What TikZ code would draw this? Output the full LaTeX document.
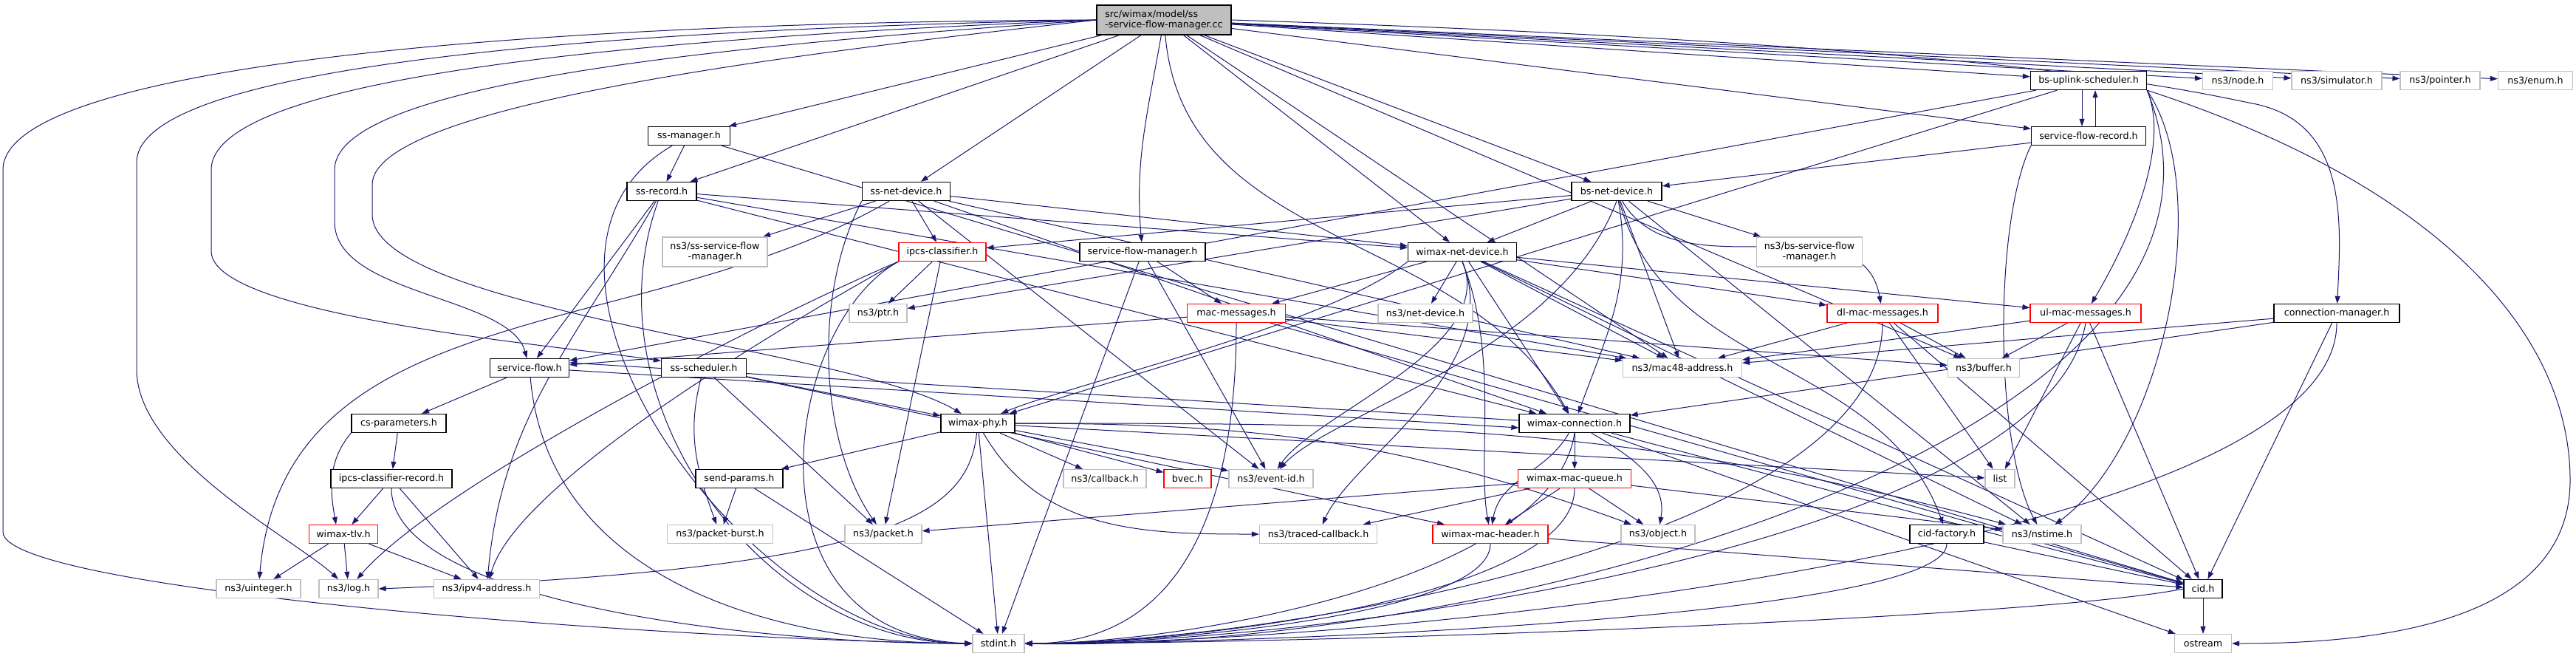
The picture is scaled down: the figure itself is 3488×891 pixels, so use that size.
\documentclass[tikz,border=0pt]{standalone}
\usepackage{fontspec}
\newfontfamily\dxfont{DejaVu Sans}
\usetikzlibrary{arrows.meta}
\definecolor{edgeblue}{RGB}{25,25,112}
\definecolor{extgray}{RGB}{191,191,191}
\pgfdeclarelayer{edgelayer}
\pgfsetlayers{edgelayer,main}
\tikzset{every picture/.style={line width=0.25pt}}
\tikzset{
  wd/.style={minimum width=#1*0.25pt},
  hbox/.style={draw=black, fill=white, line width=0.33pt, inner sep=0pt, minimum height=6.25pt,
    font=\dxfont\fontsize{3.175}{3.5}\selectfont},
  extbox/.style={hbox, draw=extgray, line width=0.3pt},
  redbox/.style={hbox, draw=red, line width=0.3pt},
  twoline/.style={minimum height=10pt, align=center},
  rootbox/.style={hbox, fill=extgray, minimum height=10pt, align=left},
  dep/.style={draw=edgeblue, line width=0.25pt, -{Triangle[length=2.5pt,width=1.75pt]}},
}

\begin{document}
\begin{tikzpicture}[x=0.25pt,y=0.25pt]
\useasboundingbox (0,0) rectangle (3488,-891);

%Root file
\node[rootbox, wd=182] (rt) at (1576,-27) {src/wimax/model/ss\\-service-flow-manager.cc};

%Row 2
\node[hbox, wd=157] (bsul) at (2828,-109) {bs-uplink-scheduler.h};
\node[extbox, wd=95] (nodeh) at (3030,-109) {ns3/node.h};
\node[extbox, wd=122] (sim) at (3164,-109) {ns3/simulator.h};
\node[extbox, wd=108] (pointer) at (3304,-109) {ns3/pointer.h};
\node[extbox, wd=101] (enum) at (3433,-109) {ns3/enum.h};

%Row 3
\node[hbox, wd=111] (ssman) at (933,-184) {ss-manager.h};
\node[hbox, wd=155] (sfr) at (2828,-184) {service-flow-record.h};

%Row 4
\node[hbox, wd=94] (ssrec) at (896,-259) {ss-record.h};
\node[hbox, wd=119] (ssnet) at (1227,-259) {ss-net-device.h};
\node[hbox, wd=122] (bsnet) at (2189,-259) {bs-net-device.h};

%Row 5
\node[extbox, twoline, wd=142] (ssfm) at (968,-341) {ns3/ss-service-flow\\-manager.h};
\node[redbox, wd=118] (ipcsc) at (1276,-341) {ipcs-classifier.h};
\node[hbox, wd=170] (sfm) at (1547,-341) {service-flow-manager.h};
\node[hbox, wd=147] (wnet) at (1980,-341) {wimax-net-device.h};
\node[extbox, twoline, wd=143] (bsfm) at (2450,-341) {ns3/bs-service-flow\\-manager.h};

%Row 6
\node[extbox, wd=78] (ptr) at (1189,-424) {ns3/ptr.h};
\node[redbox, wd=133] (macmsg) at (1674,-424) {mac-messages.h};
\node[extbox, wd=128] (netdev) at (1930,-424) {ns3/net-device.h};
\node[redbox, wd=150] (dlmac) at (2549,-424) {dl-mac-messages.h};
\node[redbox, wd=150] (ulmac) at (2824,-424) {ul-mac-messages.h};
\node[hbox, wd=170] (connmgr) at (3164,-424) {connection-manager.h};

%Row 7
\node[hbox, wd=107] (sflow) at (717,-498) {service-flow.h};
\node[hbox, wd=115] (ssched) at (953,-498) {ss-scheduler.h};
\node[extbox, wd=161] (mac48) at (2278,-498) {ns3/mac48-address.h};
\node[extbox, wd=97] (buffer) at (2686,-498) {ns3/buffer.h};

%Row 8
\node[hbox, wd=128] (csp) at (540,-573) {cs-parameters.h};
\node[hbox, wd=100] (wphy) at (1324,-573) {wimax-phy.h};
\node[hbox, wd=150] (wconn) at (2132,-573) {wimax-connection.h};

%Row 9
\node[hbox, wd=164] (iprec) at (530,-648) {ipcs-classifier-record.h};
\node[hbox, wd=118] (sendp) at (1001,-648) {send-params.h};
\node[extbox, wd=112] (callback) at (1496,-648) {ns3/callback.h};
\node[redbox, wd=64] (bvec) at (1608,-648) {bvec.h};
\node[extbox, wd=114] (eventid) at (1721,-648) {ns3/event-id.h};
\node[redbox, wd=153] (wmq) at (2132,-648) {wimax-mac-queue.h};
\node[extbox, wd=40] (list) at (2708,-648) {list};

%Row 10
\node[redbox, wd=93] (wtlv) at (465,-723) {wimax-tlv.h};
\node[extbox, wd=143] (pburst) at (975,-723) {ns3/packet-burst.h};
\node[extbox, wd=104] (packet) at (1196,-723) {ns3/packet.h};
\node[extbox, wd=159] (tcb) at (1785,-723) {ns3/traced-callback.h};
\node[redbox, wd=156] (wmh) at (2018,-723) {wimax-mac-header.h};
\node[extbox, wd=100] (object) at (2245,-723) {ns3/object.h};
\node[hbox, wd=100] (cidf) at (2636,-723) {cid-factory.h};
\node[extbox, wd=106] (nstime) at (2765,-723) {ns3/nstime.h};

%Row 11
\node[extbox, wd=114] (uint) at (350,-797) {ns3/uinteger.h};
\node[extbox, wd=80] (log) at (472,-797) {ns3/log.h};
\node[extbox, wd=143] (ipv4) at (659,-797) {ns3/ipv4-address.h};
\node[hbox, wd=52] (cid) at (2983,-797) {cid.h};

%Row 12
\node[extbox, wd=70] (stdint) at (1352,-871) {stdint.h};
\node[extbox, wd=77] (ostream) at (2983,-871) {ostream};

\begin{pgfonlayer}{edgelayer}
\fill[white] (0,0) rectangle (3488,-891);

%Edges from the root file
\draw[dep] (rt.west) .. controls (700,-30) and (4,-90) .. (4,-230) -- (4,-720) .. controls (4,-800) and (900,-866) .. (stdint.west);
\draw[dep] (rt.west) .. controls (800,-40) and (185,-90) .. (185,-220) -- (185,-500) .. controls (185,-620) and (400,-730) .. (log);
\draw[dep] (rt.west) .. controls (900,-50) and (286,-100) .. (286,-230) -- (286,-340) .. controls (286,-430) and (780,-470) .. (ssched);
\draw[dep] (rt.west) .. controls (1000,-60) and (453,-110) .. (453,-230) -- (453,-300) .. controls (453,-400) and (690,-400) .. (sflow);
\draw[dep] (rt.west) .. controls (1100,-70) and (504,-140) .. (504,-250) -- (504,-290) .. controls (504,-420) and (1150,-470) .. (wphy);
\draw[dep] (rt) -- (ssman);
\draw[dep] (rt) -- (ssrec);
\draw[dep] (rt) -- (ssnet);
\draw[dep] (rt) to[out=-100,in=95] (sfm);
\draw[dep] (rt) -- (bsnet);
\draw[dep] (rt) -- (wnet);
\draw[dep] (rt) to[out=-85,in=120] (wconn);
\draw[dep] (rt) -- (mac48);
\draw[dep] (rt) -- (buffer);
\draw[dep] (rt) -- (bsul);
\draw[dep] (rt) -- (sfr);
\draw[dep] (rt) -- (nodeh);
\draw[dep] (rt) -- (sim);
\draw[dep] (rt) -- (pointer);
\draw[dep] (rt) -- (enum);
\draw[dep] (rt.east) .. controls (2700,-60) and (2950,-120) .. (3050,-140) .. controls (3180,-165) and (3170,-300) .. (connmgr);

%ss-manager.h and ss-record.h
\draw[dep] (ssman) -- (ssrec);
\draw[dep] (ssman) to[out=-150,in=180] (stdint.west);
\draw[dep] (ssman) -- (cid);
\draw[dep] (ssrec) to[out=-110,in=180] (stdint.west);
\draw[dep] (ssrec) to[out=-120,in=85] (ipv4);
\draw[dep] (ssrec) -- (sflow);
\draw[dep] (ssrec) -- (mac48);
\draw[dep] (ssrec) -- (wnet);
\draw[dep] (ssrec) -- (wconn);

%ss-net-device.h
\draw[dep] (ssnet) -- (wnet);
\draw[dep] (ssnet) -- (ipcsc);
\draw[dep] (ssnet) -- (ssfm);
\draw[dep] (ssnet) -- (eventid);
\draw[dep] (ssnet) -- (mac48);
\draw[dep] (ssnet) -- (wconn);
\draw[dep] (ssnet.south west) .. controls (1100,-400) and (1110,-600) .. (packet);
\draw[dep] (ssnet) to[out=-150,in=85] (uint);

%ipcs-classifier.h and service-flow-manager.h
\draw[dep] (ipcsc) -- (ptr);
\draw[dep] (ipcsc.south west) .. controls (1060,-440) and (1000,-860) .. (stdint.west);
\draw[dep] (ipcsc.south west) .. controls (1080,-430) and (700,-650) .. (ipv4);
\draw[dep] (ipcsc) -- (packet);
\draw[dep] (ipcsc.south west) .. controls (1060,-420) and (600,-650) .. (log);
\draw[dep] (sfm) -- (macmsg);
\draw[dep] (sfm) -- (eventid);
\draw[dep] (sfm) -- (stdint);

%bs-net-device.h
\draw[dep] (bsnet) -- (wnet);
\draw[dep] (bsnet) -- (ipcsc);
\draw[dep] (bsnet) -- (ptr);
\draw[dep] (bsnet) -- (bsfm);
\draw[dep] (bsnet) to[out=-60,in=100] (dlmac);
\draw[dep] (bsnet) -- (mac48);
\draw[dep] (bsnet.south) .. controls (2110,-480) and (1800,-560) .. (eventid);
\draw[dep] (bsnet) -- (nstime);
\draw[dep] (bsnet) to[out=-80,in=70] (wconn);
\draw[dep] (bsnet) to[out=-75,in=110] (cidf);

%bs-uplink-scheduler.h and service-flow-record.h
\draw[dep] ([xshift=-2.25pt]bsul.south) -- ([xshift=-2.25pt]sfr.north);
\draw[dep] ([xshift=2.25pt]sfr.north) -- ([xshift=2.25pt]bsul.south);
\draw[dep] (bsul.south east) .. controls (2940,-200) and (2880,-330) .. (ulmac);
\draw[dep] (bsul) -- (wphy);
\draw[dep] (bsul) -- (sflow);
\draw[dep] (bsul.south east) .. controls (3300,-250) and (3480,-450) .. (3480,-650) .. controls (3480,-850) and (3200,-871) .. (ostream.east);
\draw[dep] (bsul.south east) .. controls (3000,-260) and (2930,-600) .. (nstime);
\draw[dep] (bsul.south east) .. controls (3100,-600) and (2000,-885) .. (stdint.east);
\draw[dep] (sfr) -- (bsnet);
\draw[dep] (sfr.south west) .. controls (2700,-300) and (2700,-600) .. (nstime);

%wimax-net-device.h
\draw[dep] (wnet) -- (netdev);
\draw[dep] (wnet) -- (macmsg);
\draw[dep] (wnet) -- (dlmac);
\draw[dep] (wnet) -- (ulmac);
\draw[dep] (wnet.south west) .. controls (1800,-440) and (1450,-520) .. (wphy);
\draw[dep] (wnet) -- (wconn);
\draw[dep] (wnet.south) .. controls (2030,-470) and (1780,-560) .. (eventid);
\draw[dep] (wnet) -- (mac48);
\draw[dep] (wnet.south) .. controls (2040,-500) and (1830,-620) .. (tcb);
\draw[dep] (wnet.south) .. controls (2030,-480) and (2000,-620) .. (wmh);
\draw[dep] (wnet) -- (nstime);
\draw[dep] (wnet) -- (cid);

%mac messages
\draw[dep] (macmsg.south) .. controls +(0,-250) and (1600,-871) .. (stdint.east);
\draw[dep] (macmsg) -- (cid);
\draw[dep] (macmsg) -- (sflow);
\draw[dep] (macmsg) -- (mac48);
\draw[dep] (macmsg) -- (buffer);
\draw[dep] (dlmac) -- (mac48);
\draw[dep] (dlmac) -- (buffer);
\draw[dep] (dlmac) -- (list);
\draw[dep] (dlmac) -- (cid);
\draw[dep] (dlmac.south) .. controls +(0,-300) and (1700,-871) .. (stdint.east);
\draw[dep] (ulmac) -- (mac48);
\draw[dep] (ulmac) -- (buffer);
\draw[dep] (ulmac) -- (list);
\draw[dep] (ulmac) -- (cid);
\draw[dep] (ulmac.south) .. controls +(-50,-300) and (1800,-871) .. (stdint.east);

%connection-manager.h
\draw[dep] (connmgr) -- (wconn);
\draw[dep] (connmgr) -- (mac48);
\draw[dep] (connmgr) -- (cid);
\draw[dep] (connmgr.south) .. controls +(0,-300) and (1900,-871) .. (stdint.east);

%service-flow.h, cs-parameters.h, tlv
\draw[dep] ([yshift=-0.75pt]sflow.east) -- ([yshift=-1.5pt]wconn.west);
\draw[dep] ([yshift=1pt]wconn.west) -- ([yshift=1.75pt]sflow.east);
\draw[dep] (sflow) -- (csp);
\draw[dep] (sflow) to[out=-85,in=180] (stdint.west);
\draw[dep] (csp) -- (iprec);
\draw[dep] (csp.south west) to[out=-130,in=100] ([xshift=-2.5pt]wtlv.north);
\draw[dep] (iprec) -- (wtlv);
\draw[dep] (iprec) -- (ipv4);
\draw[dep] (iprec.south) .. controls +(0,-150) and (1000,-871) .. (stdint.west);
\draw[dep] (wtlv) -- (uint);
\draw[dep] (wtlv) -- (log);
\draw[dep] (wtlv) -- (ipv4);

%ss-scheduler.h and send-params.h
\draw[dep] (ssched) to[out=-105,in=110] (pburst);
\draw[dep] (ssched) -- (packet);
\draw[dep] (ssched) -- (wphy);
\draw[dep] (ssched) -- (wmh);
\draw[dep] (sendp) -- (pburst);
\draw[dep] (sendp) -- (stdint);

%wimax-phy.h
\draw[dep] (wphy) -- (sendp);
\draw[dep] (wphy) -- (callback);
\draw[dep] (wphy) -- (bvec);
\draw[dep] (wphy) -- (eventid);
\draw[dep] (wphy) to[out=-60,in=180] (tcb);
\draw[dep] (wphy) -- (stdint);
\draw[dep] (wphy) .. controls (1310,-700) and (1200,-770) .. (log.east);
\draw[dep] (wphy) -- (list);
\draw[dep] (wphy) to[out=0,in=165] (nstime);
\draw[dep] (wphy) to[out=0,in=160] (object);

%wimax-connection.h and queue
\draw[dep] (wconn) -- (wmq);
\draw[dep] (wconn) to[out=-120,in=80] (wmh);
\draw[dep] (wconn) to[out=-30,in=80] (object);
\draw[dep] (wconn.south) .. controls +(-30,-200) and (1600,-871) .. (stdint.east);
\draw[dep] (wconn) -- (cid);
\draw[dep] (wconn) -- (ostream);
\draw[dep] (wmq) -- (packet);
\draw[dep] (wmq) -- (tcb);
\draw[dep] (wmq) -- (wmh);
\draw[dep] (wmq.south) .. controls +(0,-150) and (1600,-871) .. (stdint.east);
\draw[dep] (wmq) -- (object);
\draw[dep] (wmq) -- (nstime);

%header, cid
\draw[dep] (wmh) -- (cid);
\draw[dep] (wmh.south) .. controls +(0,-100) and (1550,-871) .. (stdint.east);
\draw[dep] (cidf) -- (cid);
\draw[dep] (cidf.south) .. controls +(0,-100) and (1700,-871) .. (stdint.east);
\draw[dep] (cid) -- (ostream);
\draw[dep] (cid.west) .. controls +(-200,-40) and (1800,-871) .. (stdint.east);
\end{pgfonlayer}

\end{tikzpicture}
\end{document}
